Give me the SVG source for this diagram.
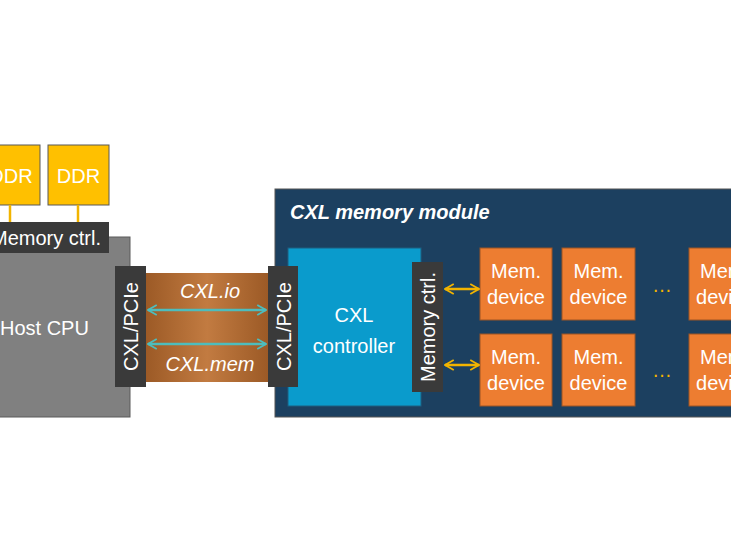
<svg xmlns="http://www.w3.org/2000/svg" width="731" height="559" viewBox="0 0 731 559">
<defs>
<style>
text{font-family:"Liberation Sans",Arial,sans-serif;fill:#fff;font-size:20px}
.c{text-anchor:middle}
.ddr{fill:#ffc000;stroke:#595959;stroke-width:1}
.dark{fill:#3a3a3a}
.mem{fill:#ed7d31;stroke:#9c5424;stroke-width:1}
.teal{stroke:#4dbdbd;stroke-width:2.5;fill:none}
.yel{stroke:#f2b400;stroke-width:2.5;fill:none}
</style>
<linearGradient id="cu" x1="0" x2="1" y1="0" y2="0">
<stop offset="0" stop-color="#9c5a26"/>
<stop offset="0.5" stop-color="#c27b41"/>
<stop offset="1" stop-color="#9c5a26"/>
</linearGradient>
<marker id="at" viewBox="0 0 10 10" refX="9" refY="5" markerWidth="5" markerHeight="5" orient="auto-start-reverse" markerUnits="strokeWidth">
<path d="M2,1 L9,5 L2,9" fill="none" stroke="#4dbdbd" stroke-width="1.4"/>
</marker>
<marker id="ay" viewBox="0 0 10 10" refX="9" refY="5" markerWidth="5" markerHeight="5" orient="auto-start-reverse" markerUnits="strokeWidth">
<path d="M2,1 L9,5 L2,9" fill="none" stroke="#f2b400" stroke-width="1.4"/>
</marker>
</defs>
<rect width="731" height="559" fill="#fff"/>

<g id="ddr1"><rect class="ddr" x="-22" y="145" width="62" height="60"/><text class="c" x="11" y="183">DDR</text></g>
<g id="ddr2"><rect class="ddr" x="48" y="145" width="61" height="60"/><text class="c" x="78.5" y="183">DDR</text></g>

<g id="connectors">
<line x1="10" y1="205" x2="10" y2="222" stroke="#f2b400" stroke-width="2.5"/>
<line x1="78" y1="205" x2="78" y2="222" stroke="#f2b400" stroke-width="2.5"/>
</g>

<g id="host-cpu">
<rect x="-5" y="237" width="135" height="180" fill="#808080" stroke="#5a5a5a" stroke-width="1"/>
<text x="0" y="335">Host CPU</text>
</g>
<g id="host-memctrl"><rect class="dark" x="-5" y="222" width="114" height="31"/><text x="101" y="245" text-anchor="end" font-size="21">Memory ctrl.</text></g>

<g id="link">
<rect x="146" y="273" width="122" height="109" fill="url(#cu)"/>
<text class="c" x="210" y="298" font-style="italic" font-size="21">CXL.io</text>
<text class="c" x="210" y="371" font-style="italic" font-size="21">CXL.mem</text>
</g>

<g id="module">
<rect x="275" y="189" width="470" height="228" fill="#1c4060" stroke="#555" stroke-width="1"/>
<text x="290" y="219" font-weight="bold" font-style="italic" font-size="19">CXL memory module</text>
</g>

<g id="cxl-controller">
<rect x="288" y="248" width="133" height="158" fill="#0a9bcc" stroke="#1c5e80" stroke-width="1"/>
<text class="c" x="354" y="322">CXL</text>
<text class="c" x="354" y="353">controller</text>
</g>

<g id="pcie-left"><rect class="dark" x="115" y="266" width="31" height="121"/><text class="c" transform="translate(138,326.5) rotate(-90)">CXL/PCIe</text></g>
<g id="pcie-right"><rect class="dark" x="268" y="266" width="30" height="121"/><text class="c" transform="translate(290.5,326.5) rotate(-90)">CXL/PCIe</text></g>
<g id="dev-memctrl"><rect class="dark" x="412" y="262" width="31" height="130"/><text class="c" transform="translate(434.5,327) rotate(-90)">Memory ctrl.</text></g>

<g id="mem11"><rect class="mem" x="480" y="248" width="72" height="72"/><text class="c" x="516" y="278">Mem.</text><text class="c" x="516" y="304">device</text></g>
<g id="mem12"><rect class="mem" x="562" y="248" width="73" height="72"/><text class="c" x="598.5" y="278">Mem.</text><text class="c" x="598.5" y="304">device</text></g>
<g id="mem13"><rect class="mem" x="689" y="248" width="72" height="72"/><text class="c" x="725" y="278">Mem.</text><text class="c" x="725" y="304">device</text></g>
<g id="mem21"><rect class="mem" x="480" y="334" width="72" height="72"/><text class="c" x="516" y="364">Mem.</text><text class="c" x="516" y="390">device</text></g>
<g id="mem22"><rect class="mem" x="562" y="334" width="73" height="72"/><text class="c" x="598.5" y="364">Mem.</text><text class="c" x="598.5" y="390">device</text></g>
<g id="mem23"><rect class="mem" x="689" y="334" width="72" height="72"/><text class="c" x="725" y="364">Mem.</text><text class="c" x="725" y="390">device</text></g>

<g id="dots">
<text class="c" x="662" y="292" style="fill:#f2b400">…</text>
<text class="c" x="662" y="377" style="fill:#f2b400">…</text>
</g>

<g id="arrows">
<line class="teal" x1="148" y1="310" x2="266" y2="310" marker-start="url(#at)" marker-end="url(#at)"/>
<line class="teal" x1="148" y1="344" x2="266" y2="344" marker-start="url(#at)" marker-end="url(#at)"/>
<line class="yel" x1="445" y1="289" x2="479" y2="289" marker-start="url(#ay)" marker-end="url(#ay)"/>
<line class="yel" x1="445" y1="365" x2="479" y2="365" marker-start="url(#ay)" marker-end="url(#ay)"/>
</g>
</svg>
